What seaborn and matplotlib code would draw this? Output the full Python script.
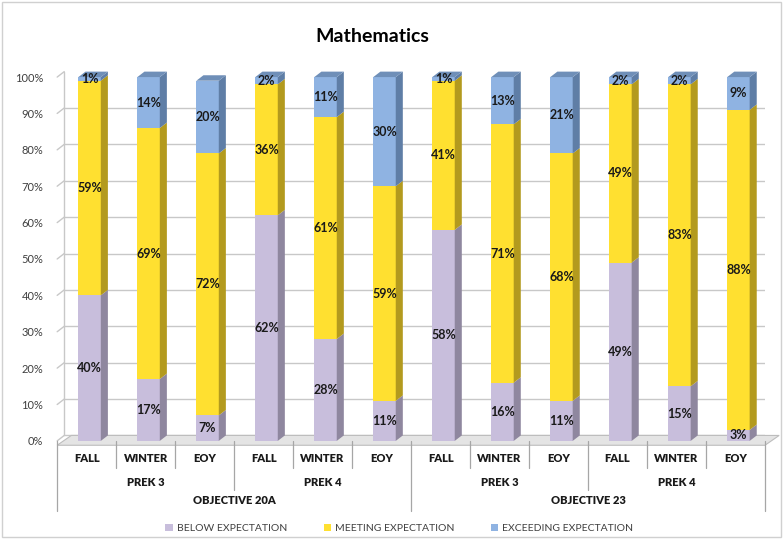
import matplotlib
matplotlib.use('Agg')
import matplotlib.pyplot as plt
import matplotlib.transforms as mtransforms
from matplotlib.patches import Polygon, Rectangle
import numpy as np
import pandas as pd
import seaborn as sns

# 데이터
seasons = ['FALL', 'WINTER', 'EOY'] * 4
grades = ['PREK 3', 'PREK 4', 'PREK 3', 'PREK 4']
objectives = ['OBJECTIVE 20A', 'OBJECTIVE 23']
below = [40, 17, 7, 62, 28, 11, 58, 16, 11, 49, 15, 3]
meeting = [59, 69, 72, 36, 61, 59, 41, 71, 68, 49, 83, 88]
exceeding = [1, 14, 20, 2, 11, 30, 1, 13, 21, 2, 2, 9]
series_names = ['BELOW EXPECTATION', 'MEETING EXPECTATION', 'EXCEEDING EXPECTATION']

colors = ['#C8BEDC', '#FFE030', '#8FB3E2']
side_colors = ['#8F879F', '#B39A1E', '#5F7EA6']
top_colors = ['#B2A9C6', '#E6C92A', '#6F8FB8']

sns.set_style('white')
plt.rcParams['font.family'] = ['Lato', 'DejaVu Sans']

slots = [str(i) for i in range(len(below))]
df = pd.DataFrame({'slot': slots, 'below': below, 'meeting': meeting, 'exceeding': exceeding})
df['c1'] = df['below']
df['c2'] = df['below'] + df['meeting']
df['c3'] = df['c2'] + df['exceeding']

fig = plt.figure(figsize=(7.83, 5.39), dpi=100)
ax = fig.add_axes([0.073, 0.182, 0.904, 0.675])

# 누적 막대 (위에서부터 그려 겹치게)
bw = 0.38
for col, c in [('c3', colors[2]), ('c2', colors[1]), ('c1', colors[0])]:
    sns.barplot(data=df, x='slot', y=col, order=slots, color=c, width=bw,
                saturation=1, ax=ax, linewidth=0, zorder=3)

ax.set_xlim(-0.5, len(slots) - 0.5)
ax.set_ylim(0, 100)
ax.set_yticks(np.arange(0, 101, 10))
ax.set_yticklabels([f'{v}%' for v in range(0, 101, 10)], fontsize=8, color='#404040')
ax.tick_params(axis='y', length=0, pad=10)
ax.set_xticks([])
ax.set_xlabel('')
ax.set_ylabel('')
for s in ax.spines.values():
    s.set_visible(False)

# 3D 느낌 깊이
dx, dy = 0.12, 1.5
for v in range(0, 101, 10):
    ax.plot([-0.5 + dx, len(slots) - 0.5 + dx], [v + dy, v + dy], color='#C8C8C8', lw=1, zorder=0)
    ax.plot([-0.5, -0.5 + dx], [v, v + dy], color='#C8C8C8', lw=1, zorder=0, clip_on=False)
ax.plot([-0.5 + dx, -0.5 + dx], [dy, 100 + dy], color='#C8C8C8', lw=1, zorder=0, clip_on=False)
floor = Polygon([(-0.5, -1.2), (-0.5 + dx * 2, dy), (len(slots) - 0.5 + dx * 2, dy),
                 (len(slots) - 0.5, -1.2)], closed=True, facecolor='#E4E4E4',
                edgecolor='#BDBDBD', lw=0.8, zorder=1, clip_on=False)
ax.add_patch(floor)

n = len(slots)
bars = list(ax.patches[:3 * n])
groups = [bars[2 * n:3 * n], bars[n:2 * n], bars[0:n]]  # below, meeting, exceeding
for i in range(n):
    base = 0
    seg_vals = [below[i], meeting[i], exceeding[i]]
    for k in range(3):
        p = groups[k][i]
        p.set_x(p.get_x() + 0.05)
        x0 = p.get_x()
        w = p.get_width()
        y0, y1 = base, base + seg_vals[k]
        p.set_height(y1 - y0)
        p.set_y(y0)
        side = Polygon([(x0 + w, y0), (x0 + w + dx, y0 + dy), (x0 + w + dx, y1 + dy), (x0 + w, y1)],
                       closed=True, facecolor=side_colors[k], lw=0, zorder=3, clip_on=False)
        ax.add_patch(side)
        if k == 2:
            top = Polygon([(x0, y1), (x0 + dx, y1 + dy), (x0 + w + dx, y1 + dy), (x0 + w, y1)],
                          closed=True, facecolor=top_colors[k], lw=0, zorder=3, clip_on=False)
            ax.add_patch(top)
        ax.text(x0 + w / 2, (y0 + y1) / 2, f'{seg_vals[k]}%', ha='center', va='center',
                fontsize=9, fontweight='bold', color='#1A1A1A', zorder=5, clip_on=False)
        base = y1

# 카테고리 축 레이블
trans = mtransforms.blended_transform_factory(ax.transData, ax.transAxes)
lc = '#A6A6A6'
lab_kw = dict(transform=trans, ha='center', va='center', fontsize=8, fontweight='heavy',
              color='#1A1A1A')
for i, s in enumerate(seasons):
    ax.text(i, -0.047, s, **lab_kw)
for g, name in enumerate(grades):
    ax.text(g * 3 + 1, -0.113, name, **lab_kw)
for o, name in enumerate(objectives):
    ax.text(o * 6 + 2.5, -0.165, name, **lab_kw)
for b in range(n + 1):
    if b % 6 == 0:
        yb = -0.192
    elif b % 3 == 0:
        yb = -0.135
    else:
        yb = -0.074
    ax.plot([b - 0.5, b - 0.5], [0, yb], transform=trans, color=lc, lw=0.9, clip_on=False)

fig.text(0.476, 0.932, 'Mathematics', ha='center', va='center', fontsize=14, fontweight='bold', color='#000000')

handles = [Rectangle((0, 0), 1, 1, facecolor=c, edgecolor='none') for c in colors]
fig.legend(handles, series_names, loc='center', bbox_to_anchor=(0.51, 0.02), ncol=3, frameon=False,
           fontsize=7.5, handlelength=0.7, handleheight=0.7, handletextpad=0.4, columnspacing=3.5,
           labelcolor='#404040')

fig.patches.append(Rectangle((0.003, 0.003), 0.994, 0.994, transform=fig.transFigure,
                             fill=False, edgecolor='#D0D0D0', lw=1))

fig.savefig('out.png', dpi=100)
